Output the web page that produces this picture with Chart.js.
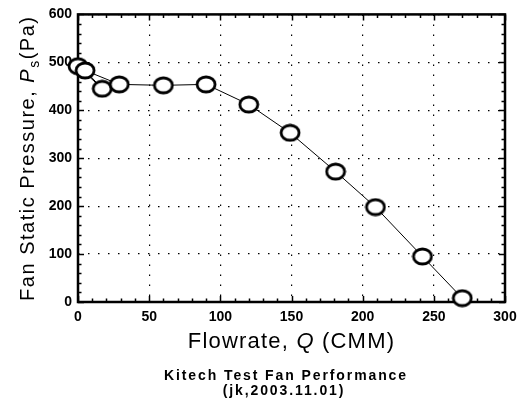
<!DOCTYPE html>
<html>
<head>
<meta charset="utf-8">
<script src="https://cdn.jsdelivr.net/npm/chart.js@4.4.0/dist/chart.umd.min.js"></script>
<style>
  html, body { margin: 0; padding: 0; background: #fff; }
  #wrap { width: 525px; height: 409px; }
</style>
</head>
<body>
<div id="wrap"><canvas id="fan-chart"></canvas></div>
<script>
// measured fan points, kept in the order they were plotted
const flowrate = [0, 17, 5, 29, 60, 90, 120, 149, 181, 209, 242, 270]
const staticPressure = [492, 445, 483, 454, 452, 454, 412, 353, 272, 198, 95, 8]

const xRange = [0, 300]
const yRange = [0, 600]
const xStep = 50
const yStep = 100
const xMinorStep = 10
const yMinorStep = 20

// axis titles, split so that symbols can be italic / subscript
const xTitle = [{ t: 'Flowrate, ' }, { t: 'Q', italic: true }, { t: ' (CMM)' }]
const yTitle = [{ t: 'Fan Static Pressure, ' }, { t: 'P', italic: true }, { t: 's', sub: true }, { t: '(Pa)' }]
const footer = ['Kitech Test Fan Performance', '(jk,2003.11.01)']

const FONT = '"Liberation Sans", Arial, sans-serif'

// open ring marker, a bit wider than tall like the original
function ringMarker(w, h) {
  const c = document.createElement('canvas')
  c.width = w + 4
  c.height = h + 4
  const ctx = c.getContext('2d')
  ctx.beginPath()
  ctx.ellipse(c.width / 2, c.height / 2, w / 2, h / 2, 0, 0, Math.PI * 2)
  ctx.fillStyle = '#fff'
  ctx.fill()
  ctx.lineWidth = 2.8
  ctx.strokeStyle = '#000'
  ctx.stroke()
  return c
}

function drawRich(ctx, parts, size, spacing) {
  ctx.letterSpacing = spacing + 'px'
  const fontFor = (p) => (p.italic ? 'italic ' : '') + (p.sub ? Math.round(size * 0.7) : size) + 'px ' + FONT
  let total = 0
  for (let p of parts) {
    ctx.font = fontFor(p)
    total += ctx.measureText(p.t).width
  }
  let x = -total / 2
  for (let p of parts) {
    ctx.font = fontFor(p)
    ctx.fillText(p.t, x, p.sub ? size * 0.25 : 0)
    x += ctx.measureText(p.t).width
  }
  ctx.letterSpacing = '0px'
}

const framePlugin = {
  id: 'frame',
  beforeDatasetsDraw(chart) {
    const { ctx, chartArea: a, scales } = chart
    const x = scales.x
    const y = scales.y
    ctx.save()
    ctx.strokeStyle = '#000'
    ctx.lineWidth = 1.5
    ctx.beginPath()
    // inward ticks on all four sides
    for (let v = xRange[0]; v <= xRange[1]; v += xMinorStep) {
      const px = Math.round(x.getPixelForValue(v)) + 0.5
      const len = v % xStep === 0 ? 6 : 3.5
      ctx.moveTo(px, a.bottom); ctx.lineTo(px, a.bottom - len)
      ctx.moveTo(px, a.top); ctx.lineTo(px, a.top + len)
    }
    for (let v = yRange[0]; v <= yRange[1]; v += yMinorStep) {
      const py = Math.round(y.getPixelForValue(v)) + 0.5
      const len = v % yStep === 0 ? 6 : 3.5
      ctx.moveTo(a.left, py); ctx.lineTo(a.left + len, py)
      ctx.moveTo(a.right, py); ctx.lineTo(a.right - len, py)
    }
    ctx.stroke()
    ctx.lineWidth = 2.5
    ctx.strokeRect(a.left, a.top, a.right - a.left, a.bottom - a.top)
    ctx.restore()
  },
  afterDraw(chart) {
    const { ctx, chartArea: a } = chart
    ctx.save()
    ctx.fillStyle = '#000'
    ctx.textBaseline = 'alphabetic'
    ctx.textAlign = 'left'

    ctx.save()
    ctx.translate((a.left + a.right) / 2, 348)
    drawRich(ctx, xTitle, 22, 1.2)
    ctx.restore()

    ctx.save()
    ctx.translate(34, (a.top + a.bottom) / 2)
    ctx.rotate(-Math.PI / 2)
    drawRich(ctx, yTitle, 20, 1.5)
    ctx.restore()

    ctx.textAlign = 'center'
    ctx.font = 'bold 14px ' + FONT
    ctx.letterSpacing = '1.9px'
    ctx.fillText(footer[0], 286, 380)
    ctx.fillText(footer[1], 284, 395)
    ctx.restore()
  },
}

new Chart(document.getElementById('fan-chart'), {
  type: 'scatter',
  data: {
    datasets: [
      {
        data: flowrate.map((q, i) => ({ x: q, y: staticPressure[i] })),
        showLine: true,
        clip: false,
        borderColor: '#000',
        borderWidth: 1,
        pointStyle: ringMarker(18, 15),
        pointRadius: 8,
        pointHoverRadius: 8,
      },
    ],
  },
  options: {
    responsive: true,
    maintainAspectRatio: false,
    animation: false,
    events: [],
    layout: { padding: { top: 14, right: 20, left: 0, bottom: 0 } },
    plugins: { legend: { display: false }, tooltip: { enabled: false } },
    scales: {
      x: {
        type: 'linear',
        min: xRange[0],
        max: xRange[1],
        afterFit: (s) => { s.height = 107 },
        ticks: { stepSize: xStep, color: '#000', padding: 7, font: { family: FONT, size: 14, weight: 'bold' } },
        grid: { color: '#000', lineWidth: 1.2, drawTicks: false },
        border: { display: false, dash: [1.5, 8.5] },
      },
      y: {
        type: 'linear',
        min: yRange[0],
        max: yRange[1],
        afterFit: (s) => { s.width = 78 },
        ticks: { stepSize: yStep, color: '#000', padding: 6, font: { family: FONT, size: 14, weight: 'bold' } },
        grid: { color: '#000', lineWidth: 1.2, drawTicks: false },
        border: { display: false, dash: [1.5, 8.5] },
      },
    },
  },
  plugins: [framePlugin],
})
</script>
</body>
</html>
